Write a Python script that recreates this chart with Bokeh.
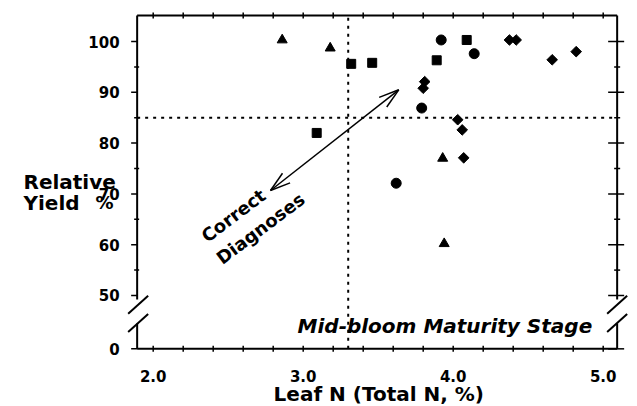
import math
from bokeh.plotting import figure
from bokeh.models import Range1d
from bokeh.core.properties import value
from bokeh.embed import file_html
from bokeh.resources import INLINE

# ---------------- data ----------------
tri_x = [2.86, 3.18, 3.93, 3.94]
tri_y = [100.3, 98.7, 77.0, 60.2]
sq_x = [3.09, 3.32, 3.46, 3.89, 4.09]
sq_y = [82.0, 95.6, 95.8, 96.3, 100.3]
ci_x = [3.62, 3.79, 3.92, 4.14]
ci_y = [72.1, 86.9, 100.3, 97.6]
di_x = [3.80, 3.81, 4.03, 4.06, 4.07, 4.375, 4.42, 4.66, 4.82]
di_y = [90.8, 92.1, 84.6, 82.6, 77.1, 100.3, 100.3, 96.4, 98.0]

x_ticks = [2.0, 3.0, 4.0, 5.0]
x_tick_labels = ["2.0", "3.0", "4.0", "5.0"]
x_minor_ticks = [2.0, 2.2, 2.4, 2.6, 2.8, 3.0, 3.2, 3.4, 3.6, 3.8,
                 4.0, 4.2, 4.4, 4.6, 4.8, 5.0]
y_ticks = [50, 60, 70, 80, 90, 100]
y_tick_labels = ["50", "60", "70", "80", "90", "100"]
y_minor_ticks = [55, 65, 75, 85, 95]
zero_label = "0"

n_critical = 3.3        # vertical dotted line
yield_critical = 85     # horizontal dotted line
arrow_a = (2.782, 70.67)
arrow_b = (3.637, 90.49)

# ---------------- layout ----------------
W, H = 636, 405
X_START, X_END = 0.982, 5.222
Y_START, Y_END = 28.346, 108.071
SX = W / (X_END - X_START)
SY = H / (Y_END - Y_START)

X0, X1 = 1.893, 5.093     # left / right spine
YT = 105.1                # top spine
Y0 = 39.5                 # position of "0" on the broken axis
GAP_LO, GAP_HI = 44.5, 49.2
SLASHES = [48.2, 44.6]

def px(d):
    return d / SX

def py(d):
    return d / SY

p = figure(width=W, height=H, output_backend="svg", toolbar_location=None,
           x_range=Range1d(X_START, X_END), y_range=Range1d(Y_START, Y_END),
           x_axis_location=None, y_axis_location=None, min_border=0)
p.grid.visible = False
p.outline_line_color = None
p.background_fill_color = "white"

FONT = value("DejaVu Sans")
K = "black"

# dotted reference lines
p.segment(x0=[n_critical], y0=[Y0], x1=[n_critical], y1=[YT],
          line_color=K, line_width=2, line_dash="3 5")
p.segment(x0=[X0], y0=[yield_critical], x1=[X1], y1=[yield_critical],
          line_color=K, line_width=2, line_dash="3 5")

# spines with axis breaks
sx0 = [X0, X0, X1, X1, X0, X0]
sy0 = [YT, GAP_LO, YT, GAP_LO, Y0, YT]
sx1 = [X0, X0, X1, X1, X1, X1]
sy1 = [GAP_HI, Y0, GAP_HI, Y0, Y0, YT]
p.segment(x0=sx0, y0=sy0, x1=sx1, y1=sy1, line_color=K, line_width=2)

# break slashes
bx0, by0, bx1, by1 = [], [], [], []
for xc in [X0 + px(1), X1]:
    for yc in SLASHES:
        bx0.append(xc - px(10)); by0.append(yc - py(9))
        bx1.append(xc + px(10)); by1.append(yc + py(9))
p.segment(x0=bx0, y0=by0, x1=bx1, y1=by1, line_color=K, line_width=2)

# ticks
tx0, ty0, tx1, ty1 = [], [], [], []
for yv in y_ticks + [Y0]:
    tx0.append(X0 - px(6)); ty0.append(yv); tx1.append(X0); ty1.append(yv)
    tx0.append(X1 - px(9)); ty0.append(yv); tx1.append(X1 + px(7)); ty1.append(yv)
for yv in y_minor_ticks:
    tx0.append(X0 - px(3)); ty0.append(yv); tx1.append(X0 + px(2)); ty1.append(yv)
    tx0.append(X1 - px(3)); ty0.append(yv); tx1.append(X1 + px(3)); ty1.append(yv)
for xv in x_minor_ticks:
    tx0.append(xv); ty0.append(Y0 - py(3)); tx1.append(xv); ty1.append(Y0 + py(3))
    tx0.append(xv); ty0.append(YT - py(3)); tx1.append(xv); ty1.append(YT + py(3))
p.segment(x0=tx0, y0=ty0, x1=tx1, y1=ty1, line_color=K, line_width=1.5)

# data markers
p.scatter(tri_x, tri_y, marker="triangle", size=10, color=K)
p.scatter(sq_x, sq_y, marker="square", size=9, color=K)
p.scatter(ci_x, ci_y, marker="circle", size=10, color=K)
p.scatter(di_x, di_y, marker="square", size=7.5, angle=math.pi / 4, color=K)

# double-headed arrow
p.segment(x0=[arrow_a[0]], y0=[arrow_a[1]], x1=[arrow_b[0]], y1=[arrow_b[1]],
          line_color=K, line_width=1.5)
hx0, hy0, hx1, hy1 = [], [], [], []
for tip, other in [(arrow_a, arrow_b), (arrow_b, arrow_a)]:
    ux = (other[0] - tip[0]) * SX
    uy = (other[1] - tip[1]) * SY
    n = math.hypot(ux, uy)
    ux, uy = ux / n, uy / n
    for s in (1, -1):
        a = math.radians(17) * s
        rx = ux * math.cos(a) - uy * math.sin(a)
        ry = ux * math.sin(a) + uy * math.cos(a)
        hx0.append(tip[0]); hy0.append(tip[1])
        hx1.append(tip[0] + px(21 * rx)); hy1.append(tip[1] + py(21 * ry))
p.segment(x0=hx0, y0=hy0, x1=hx1, y1=hy1, line_color=K, line_width=1.5)

# tick labels
p.text(x=[X0 - px(17.5)] * (len(y_ticks) + 1), y=y_ticks + [Y0],
       text=y_tick_labels + [zero_label], text_font=FONT, text_font_style="bold",
       text_font_size="15px", text_align="right", text_baseline="middle", text_color=K)
p.text(x=x_ticks, y=[Y0 - py(27)] * len(x_ticks), text=x_tick_labels,
       text_font=FONT, text_font_style="bold", text_font_size="15px",
       text_align="center", text_baseline="middle", text_color=K)

# axis titles
p.text(x=[3.504], y=[Y0 - py(45)], text=["Leaf N (Total N, %)"], text_font=FONT,
       text_font_style="bold", text_font_size="20px", text_align="center",
       text_baseline="alphabetic", text_color=K)
p.text(x=[1.1353, 1.1353], y=[72.34, 68.21], text=["Relative", "Yield"],
       text_font=FONT, text_font_style="bold", text_font_size="20px",
       text_align="left", text_baseline="alphabetic", text_color=K)
p.text(x=[1.615], y=[68.21], text=["%"], text_font=FONT, text_font_style="bold",
       text_font_size="18px", text_align="left", text_baseline="alphabetic", text_color=K)

# annotations
p.text(x=[4.9267], y=[43.96], text=["Mid-bloom Maturity Stage"], text_font=FONT,
       text_font_style="bold italic", text_font_size="20px", text_align="right",
       text_baseline="alphabetic", text_color=K)
p.text(x=[2.535, 2.715], y=[65.75, 63.2], text=["Correct", "Diagnoses"],
       angle=math.radians(37), text_font=FONT, text_font_style="bold",
       text_font_size="18px", text_align="center", text_baseline="middle", text_color=K)

open("out.html", "w").write(file_html(p, INLINE))
